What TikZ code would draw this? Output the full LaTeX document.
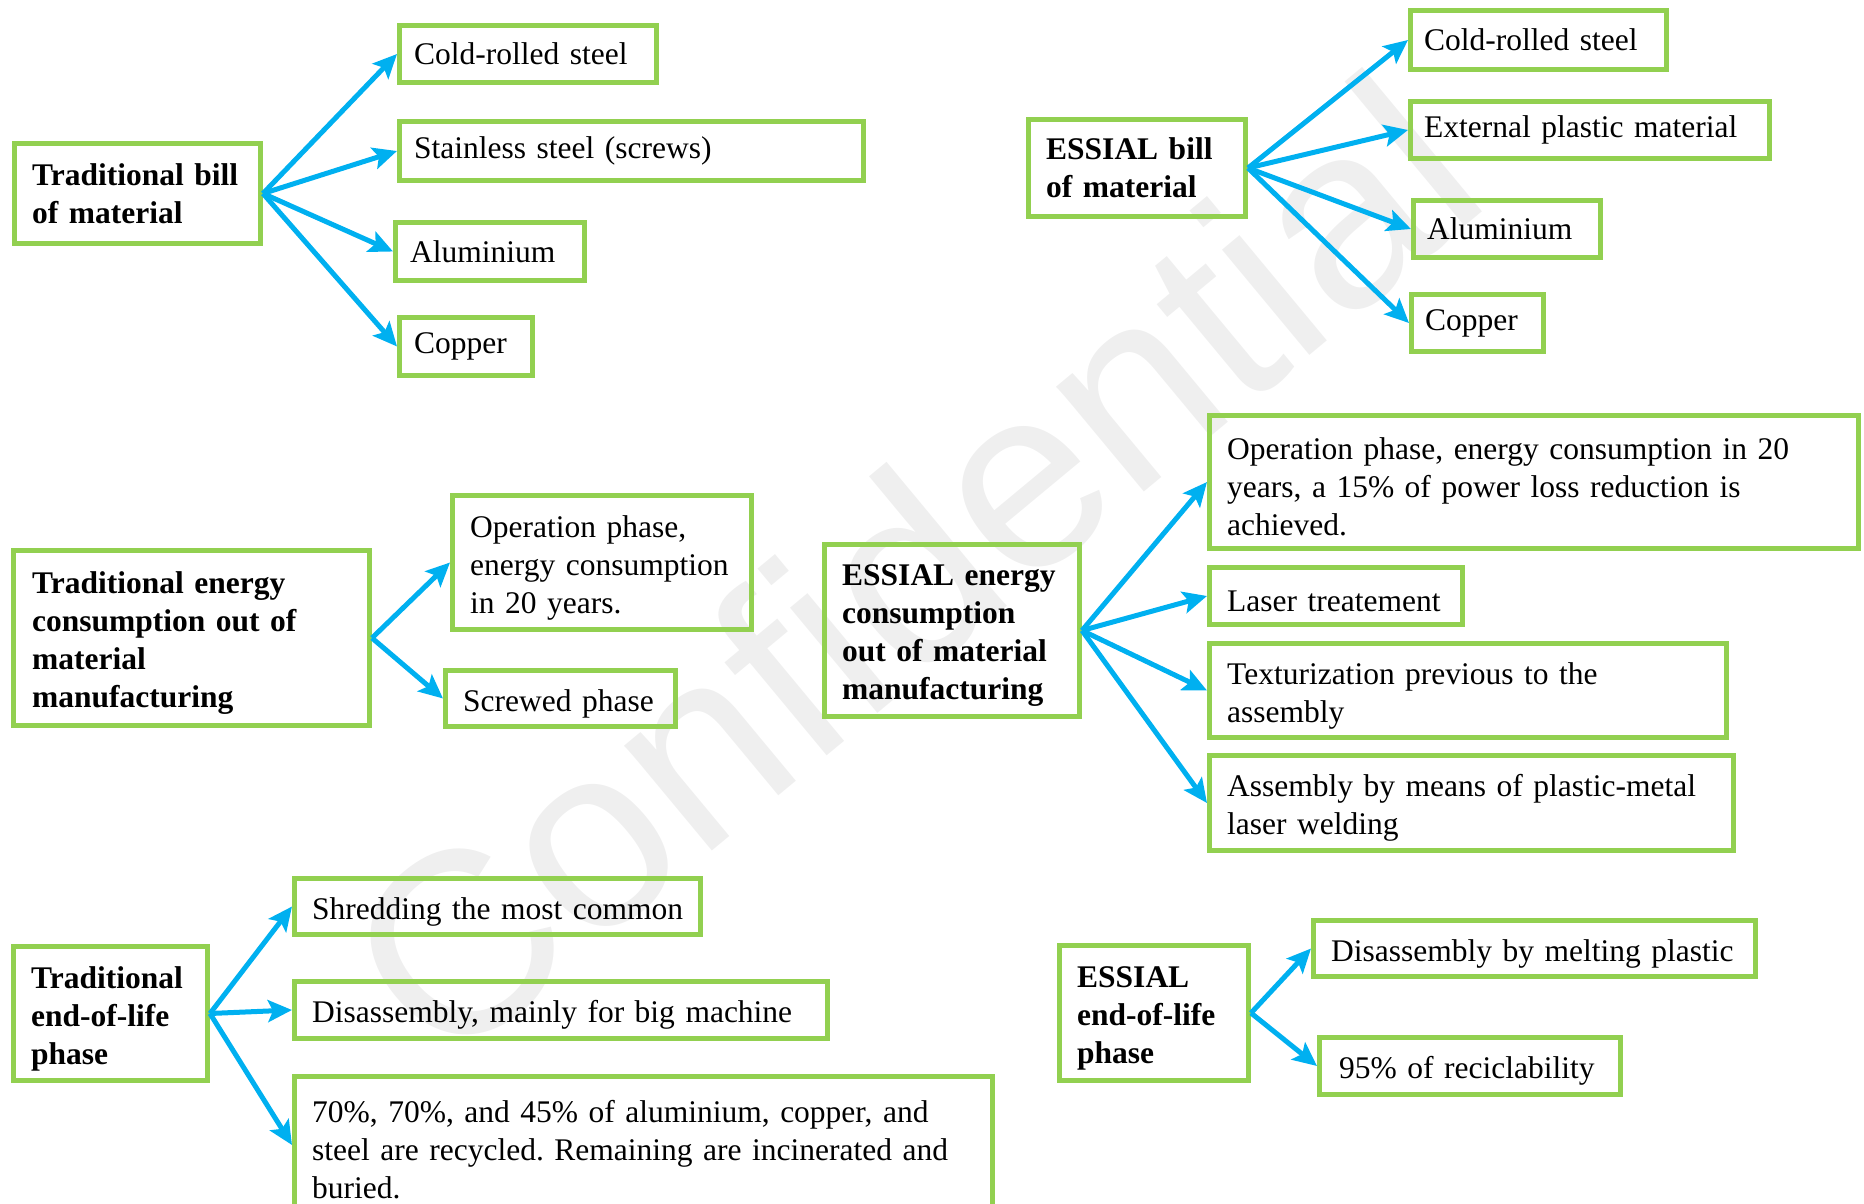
\documentclass[tikz,border=0pt]{standalone}
\usepackage{fontspec}
\setmainfont{Liberation Serif}
\newfontfamily\wmfont{Liberation Sans}
\usetikzlibrary{arrows.meta}
\definecolor{boxgreen}{HTML}{92D050}
\definecolor{arrowblue}{HTML}{00B0F0}
\definecolor{wmgray}{HTML}{EFEFEF}
\hyphenpenalty=10000
\exhyphenpenalty=10000
\frenchspacing
% a green frame with its text block set inside it
% #1 text style, #2 name, #3 x, #4 y (centre), #5 width, #6 height, #7 left inset, #8 text
\def\textdrop{0}
\newcommand\mkbox[8]{%
  \pgfmathsetmacro\bxw{#5-5}%
  \pgfmathsetmacro\bxh{#6-5}%
  \pgfmathsetmacro\bxt{#5-2*#7}%
  \node[frame, minimum width=\bxw pt, minimum height=\bxh pt] (#2) at (#3,#4) {};
  \node[#1, text width=\bxt pt, anchor=west] (#2-text) at ([xshift=#7pt, yshift=-\textdrop pt]#2.west) {#8};
}
\begin{document}
\begin{tikzpicture}[x=1pt,y=-1pt,
  frame/.style={draw=boxgreen, line width=5pt, inner sep=0pt},
  txt/.style={align=left, inner sep=0pt, font=\fontsize{31.5}{38}\selectfont},
  head/.style={txt, font=\fontsize{31.5}{38}\selectfont\bfseries},
  arr/.style={draw=arrowblue, line width=5pt, -{Stealth[length=24pt,width=22pt,inset=5pt]}},
  watermark/.style={text=wmgray, font=\wmfont\fontsize{259}{259}\selectfont, inner sep=0pt}]
\useasboundingbox (0,0) rectangle (1864,1204);

% watermark behind the diagram
\node[watermark, rotate=39.7] (wm) at (911,566) {Confidential};

% ---- traditional bill of material
\def\textdrop{0}
\mkbox{head}{tb}{137.5}{193.5}{251}{105}{20}{Traditional bill\\of material}
\mkbox{txt}{tb1}{528}{54}{262}{62}{17}{Cold-rolled steel}
\mkbox{txt}{tb2}{631.5}{151}{469}{64}{17}{Stainless steel (screws)}
\mkbox{txt}{tb3}{490}{251.5}{194}{63}{17}{Aluminium}
\mkbox{txt}{tb4}{466}{346.5}{138}{63}{17}{Copper}
\foreach \t in {tb1,tb2,tb3,tb4} \draw[arr] (tb.east) -- (\t.west);

% ---- ESSIAL bill of material
\mkbox{head}{eb}{1137}{168}{222}{102}{20}{ESSIAL bill\\of material}
\mkbox{txt}{eb1}{1538.5}{40}{261}{64}{16}{Cold-rolled steel}
\mkbox{txt}{eb2}{1590}{130}{364}{62}{16}{External plastic material}
\mkbox{txt}{eb3}{1507}{229}{192}{62}{16}{Aluminium}
\mkbox{txt}{eb4}{1477.5}{323}{137}{62}{16}{Copper}
\foreach \t in {eb1,eb2,eb3,eb4} \draw[arr] (eb.east) -- (\t.west);

% ---- traditional energy consumption
\def\textdrop{5}
\mkbox{head}{te}{191.5}{638}{361}{180}{21}{Traditional energy\\consumption out of\\material\\manufacturing}
\mkbox{txt}{te1}{602}{562.5}{304}{139}{20}{Operation phase,\\energy consumption\\in 20 years.}
\mkbox{txt}{te2}{560.5}{698.5}{235}{61}{20}{Screwed phase}
\foreach \t in {te1,te2} \draw[arr] (te.east) -- (\t.west);

% ---- ESSIAL energy consumption
\mkbox{head}{ee}{952}{630.5}{260}{177}{20}{ESSIAL energy\\consumption\\out of material\\manufacturing}
\mkbox{txt}{ee1}{1534}{482}{654}{138}{20}{Operation phase, energy consumption in 20\\years, a 15\% of power loss reduction is\\achieved.}
\mkbox{txt}{ee2}{1336}{596}{258}{62}{20}{Laser treatement}
\mkbox{txt}{ee3}{1468}{690.5}{522}{99}{20}{Texturization previous to the\\assembly}
\mkbox{txt}{ee4}{1471.5}{803}{529}{100}{20}{Assembly by means of plastic-metal\\laser welding}
\foreach \t in {ee1,ee2,ee3,ee4} \draw[arr] (ee.east) -- (\t.west);

% ---- traditional end-of-life
\mkbox{head}{tl}{110.5}{1013.5}{199}{139}{20}{Traditional\\end-of-life\\phase}
\mkbox{txt}{tl1}{497.5}{906.5}{411}{61}{20}{Shredding the most common}
\mkbox{txt}{tl2}{561}{1010}{538}{62}{20}{Disassembly, mainly for big machine}
\mkbox{txt}{tl3}{643.5}{1145}{703}{142}{20}{70\%, 70\%, and 45\% of aluminium, copper, and\\steel are recycled. Remaining are incinerated and\\buried.}
\foreach \t in {tl1,tl2,tl3} \draw[arr] (tl.east) -- (\t.west);

% ---- ESSIAL end-of-life
\mkbox{head}{el}{1154}{1013}{194}{140}{20}{ESSIAL\\end-of-life\\phase}
\mkbox{txt}{el1}{1534.5}{948.5}{447}{61}{20}{Disassembly by melting plastic}
\mkbox{txt}{el2}{1470}{1066}{306}{62}{22}{95\% of reciclability}
\foreach \t in {el1,el2} \draw[arr] (el.east) -- (\t.west);
\end{tikzpicture}
\end{document}
